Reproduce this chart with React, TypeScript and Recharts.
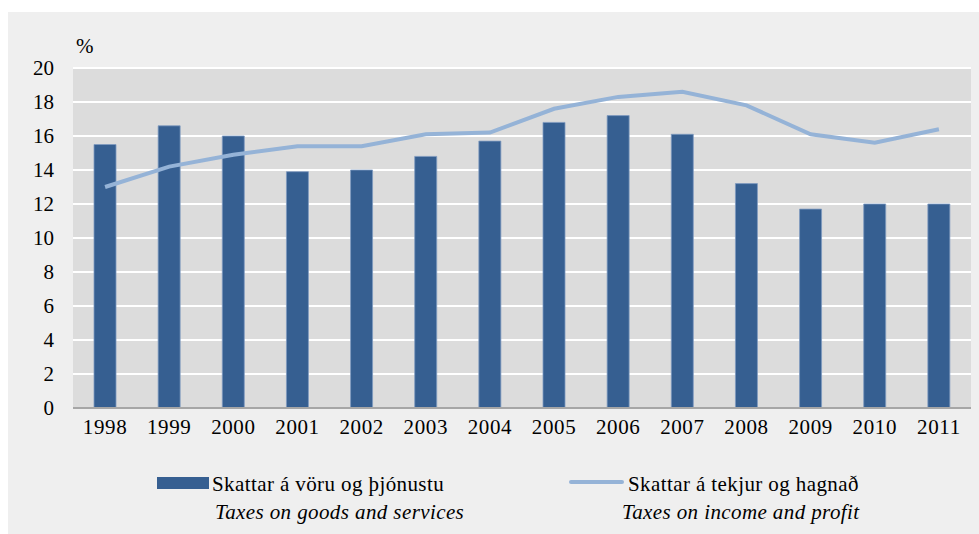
import React from 'react';
import { ComposedChart, Bar, Line, XAxis, YAxis, CartesianGrid } from 'recharts';

const years = ['1998','1999','2000','2001','2002','2003','2004','2005','2006','2007','2008','2009','2010','2011'];
const goodsServices = [15.5, 16.6, 16.0, 13.9, 14.0, 14.8, 15.7, 16.8, 17.2, 16.1, 13.2, 11.7, 12.0, 12.0];
const incomeProfit = [13.0, 14.2, 14.9, 15.4, 15.4, 16.1, 16.2, 17.6, 18.3, 18.6, 17.8, 16.1, 15.6, 16.4];
const yTicks = [0, 2, 4, 6, 8, 10, 12, 14, 16, 18, 20];
const legendMain = ['Skattar á vöru og þjónustu', 'Skattar á tekjur og hagnað'];
const legendSub = ['Taxes on goods and services', 'Taxes on income and profit'];

const data = years.map((y, i) => ({ year: y, goods: goodsServices[i], income: incomeProfit[i] }));

const FONT = '"Liberation Serif", "Times New Roman", serif';
const BAR = '#365f91';
const LINE = '#95b3d7';

const txt: React.CSSProperties = { position: 'absolute', fontSize: 21, color: '#000', whiteSpace: 'nowrap', lineHeight: '24px', letterSpacing: 0.4 };

export default function App() {
  return (
    <div style={{ position: 'absolute', left: 0, top: 0, width: 979, height: 534, background: '#ffffff', fontFamily: FONT }}>
      <div style={{ position: 'absolute', left: 8, top: 12, width: 971, height: 522, background: '#efefef' }} />
      <div style={{ position: 'absolute', left: 0, top: 0 }}>
        <ComposedChart width={979} height={534} data={data} margin={{ top: 68, right: 8, bottom: 86, left: 0 }} barCategoryGap={0}>
          <CartesianGrid vertical={false} horizontal={true} stroke="#ffffff" strokeWidth={2} fill="#dcdcdc" />
          <XAxis dataKey="year" height={40} tickLine={false} axisLine={{ stroke: '#a6a6a6', strokeWidth: 2 }}
            tick={{ fill: '#000', fontSize: 21, fontFamily: FONT, letterSpacing: 0.6 }} tickMargin={5} interval={0} />
          <YAxis width={73} domain={[0, 20]} ticks={yTicks} tickLine={false} axisLine={false} interval={0}
            tick={{ fill: '#000', fontSize: 21, fontFamily: FONT }} tickMargin={13} />
          <Bar dataKey="goods" fill={BAR} stroke="#7f9bc0" strokeWidth={0.8} barSize={22} isAnimationActive={false} />
          <Line dataKey="income" type="linear" stroke={LINE} strokeWidth={4} dot={false} isAnimationActive={false} />
        </ComposedChart>
      </div>
      <div style={{ ...txt, left: 76, top: 34, letterSpacing: 0 }}>%</div>
      <div style={{ position: 'absolute', left: 157, top: 477, width: 52, height: 12, background: BAR }} />
      <div style={{ ...txt, left: 212, top: 472 }}>{legendMain[0]}</div>
      <div style={{ ...txt, left: 215, top: 500, fontStyle: 'italic' }}>{legendSub[0]}</div>
      <div style={{ position: 'absolute', left: 569, top: 480, width: 55, height: 4, borderRadius: 2, background: LINE }} />
      <div style={{ ...txt, left: 628, top: 472 }}>{legendMain[1]}</div>
      <div style={{ ...txt, left: 622, top: 500, fontStyle: 'italic' }}>{legendSub[1]}</div>
    </div>
  );
}
